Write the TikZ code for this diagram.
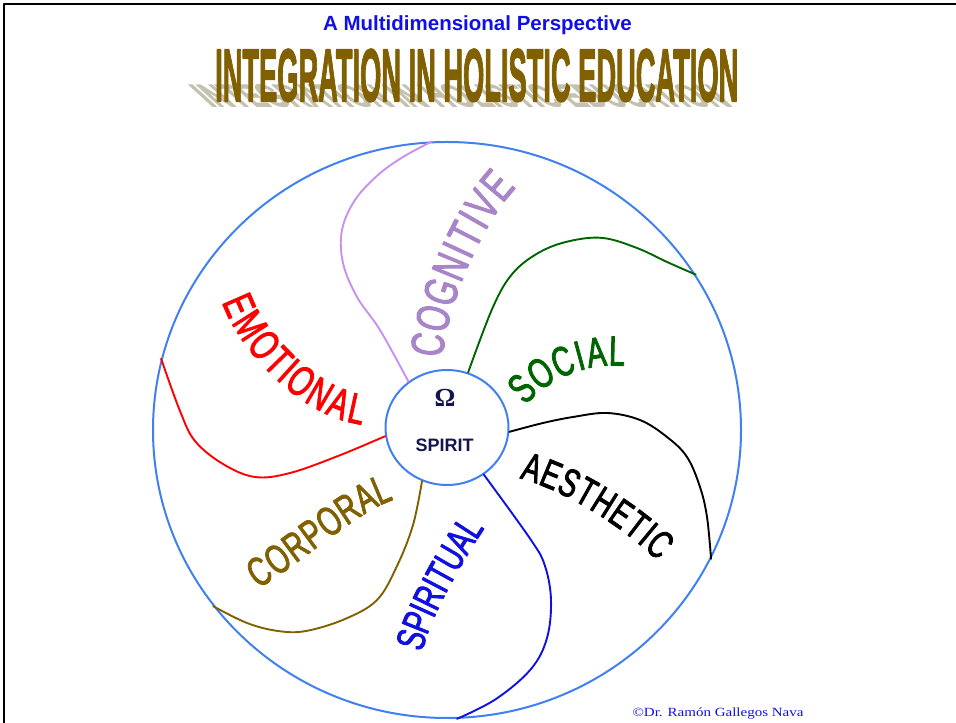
\documentclass[tikz,border=0pt]{standalone}
\usepackage{fontspec}
\usetikzlibrary{shapes.geometric,decorations.text}
\setmainfont{Liberation Sans}
\newfontfamily\lblfont[FakeStretch=0.68,FakeBold=2]{Liberation Sans}
\newfontfamily\headfont[BoldFeatures={FakeBold=2.5}]{Liberation Sans}
\newfontfamily\omegafont{Liberation Serif}
\newfontfamily\footfont[FakeStretch=1.2]{Liberation Serif}
\newcommand{\lbl}[1]{\lblfont\fontsize{#1}{#1}\selectfont}
\definecolor{wheelblue}{RGB}{64,128,240}
\definecolor{lilac}{RGB}{200,144,240}
\definecolor{lilactext}{RGB}{168,132,200}
\definecolor{socialgreen}{RGB}{0,100,0}
\definecolor{deepblue}{RGB}{16,16,225}
\definecolor{earth}{RGB}{128,96,0}
\definecolor{titleblue}{RGB}{16,16,230}
\definecolor{navy}{RGB}{20,20,80}
\definecolor{shadowgray}{RGB}{196,193,176}
\begin{document}
\begin{tikzpicture}[x=1pt,y=1pt,line join=round,line cap=round,
  ring/.style={ellipse,draw=wheelblue,line width=2pt,inner sep=0pt},
  spoke/.style={line width=1.9pt},
  word/.style={decorate,decoration={text along path,text align=fit to path,raise=-15pt,text color=#1}}]
\useasboundingbox (0,0) rectangle (956,723);
% frame
\draw[line width=2pt,line cap=butt] (956,718.5) -- (3.8,718.5) -- (3.8,0);
% headings
\node[text=titleblue,font=\bfseries\fontsize{20.5}{24}\selectfont,anchor=base] (subtitle) at (477.5,692) {A Multidimensional Perspective};
\begin{scope}[shift={(211,616)},xslant=-1.1]
\node[transform shape,anchor=south west,inner sep=0pt,text=shadowgray] (shadow) at (0,0) {\resizebox{523pt}{22pt}{\headfont\bfseries INTEGRATION IN HOLISTIC EDUCATION}};
\end{scope}
\node[anchor=south west,inner sep=0pt,text=earth] (title) at (215,621) {\resizebox{523pt}{52pt}{\headfont\bfseries INTEGRATION IN HOLISTIC EDUCATION}};
% wheel
\node[ring,minimum width=588pt,minimum height=576pt] (wheel) at (447,293) {};
\node[ring,minimum width=123pt,minimum height=115pt] (spirit) at (447,295.5) {};
\node[text=navy] (omega) at (445,325) {\omegafont\bfseries\fontsize{26}{26}\selectfont Ω};
\node[text=navy,font=\bfseries\fontsize{18}{18}\selectfont] (spiritname) at (444.5,278) {SPIRIT};
% spokes
\draw[spoke,lilac] plot[smooth,tension=0.6] coordinates {(spirit.130) (380,393) (357,426) (343,460) (342,493) (355,523) (378,548) (403,566) (wheel.93)};
\draw[spoke,socialgreen] plot[smooth,tension=0.6] coordinates {(spirit.69) (493,416) (513,450) (540,471) (570,482) (603,485) (637,475) (667,461) (wheel.32)};
\draw[spoke,black] plot[smooth,tension=0.6] coordinates {(spirit.-4) (543,300) (573,306) (607,310) (640,303) (667,286) (687,266) (700,236) (707,206) (wheel.-26)};
\draw[spoke,deepblue] plot[smooth,tension=0.6] coordinates {(spirit.-52) (531,183) (545,157) (551,123) (547,85) (531,54) (496,24) (wheel.-88)};
\draw[spoke,earth] plot[smooth,tension=0.6] coordinates {(spirit.-115) (413,198) (397,157) (377,123) (345,104) (306,92) (278,92) (247,100) (wheel.217)};
\draw[spoke,red] plot[smooth,tension=0.6] coordinates {(spirit.188) (338,267) (290,250) (255,246) (223,259) (195,282) (180,312) (wheel.166)};
% labels
\path[word=lilactext,decoration={text={|\lbl{47}|COGNITIVE}}] (428,367) .. controls (431,420) and (470,510) .. (505,545);
\path[word=socialgreen,decoration={text={|\lbl{42}|SOCIAL}}] (515,328) .. controls (537,355) and (580,376) .. (625,372);
\path[word=black,decoration={text={|\lbl{40}|AESTHETIC}}] (524,259) .. controls (570,247) and (630,210) .. (668,173);
\path[word=deepblue,decoration={text={|\lbl{40}|SPIRITUAL}}] (408,75) .. controls (415,110) and (450,170) .. (472,203);
\path[word=earth,decoration={text={|\lbl{41}|CORPORAL}}] (250,147) .. controls (290,170) and (350,225) .. (388,237);
\path[word=red,decoration={text={|\lbl{43}|EMOTIONAL}}] (236,427) .. controls (245,395) and (300,322) .. (365,313);
% credit
\node[text=titleblue,anchor=base] (credit) at (718,6) {\footfont\fontsize{12.5}{14}\selectfont ©Dr. Ramón Gallegos Nava};
\end{tikzpicture}
\end{document}
